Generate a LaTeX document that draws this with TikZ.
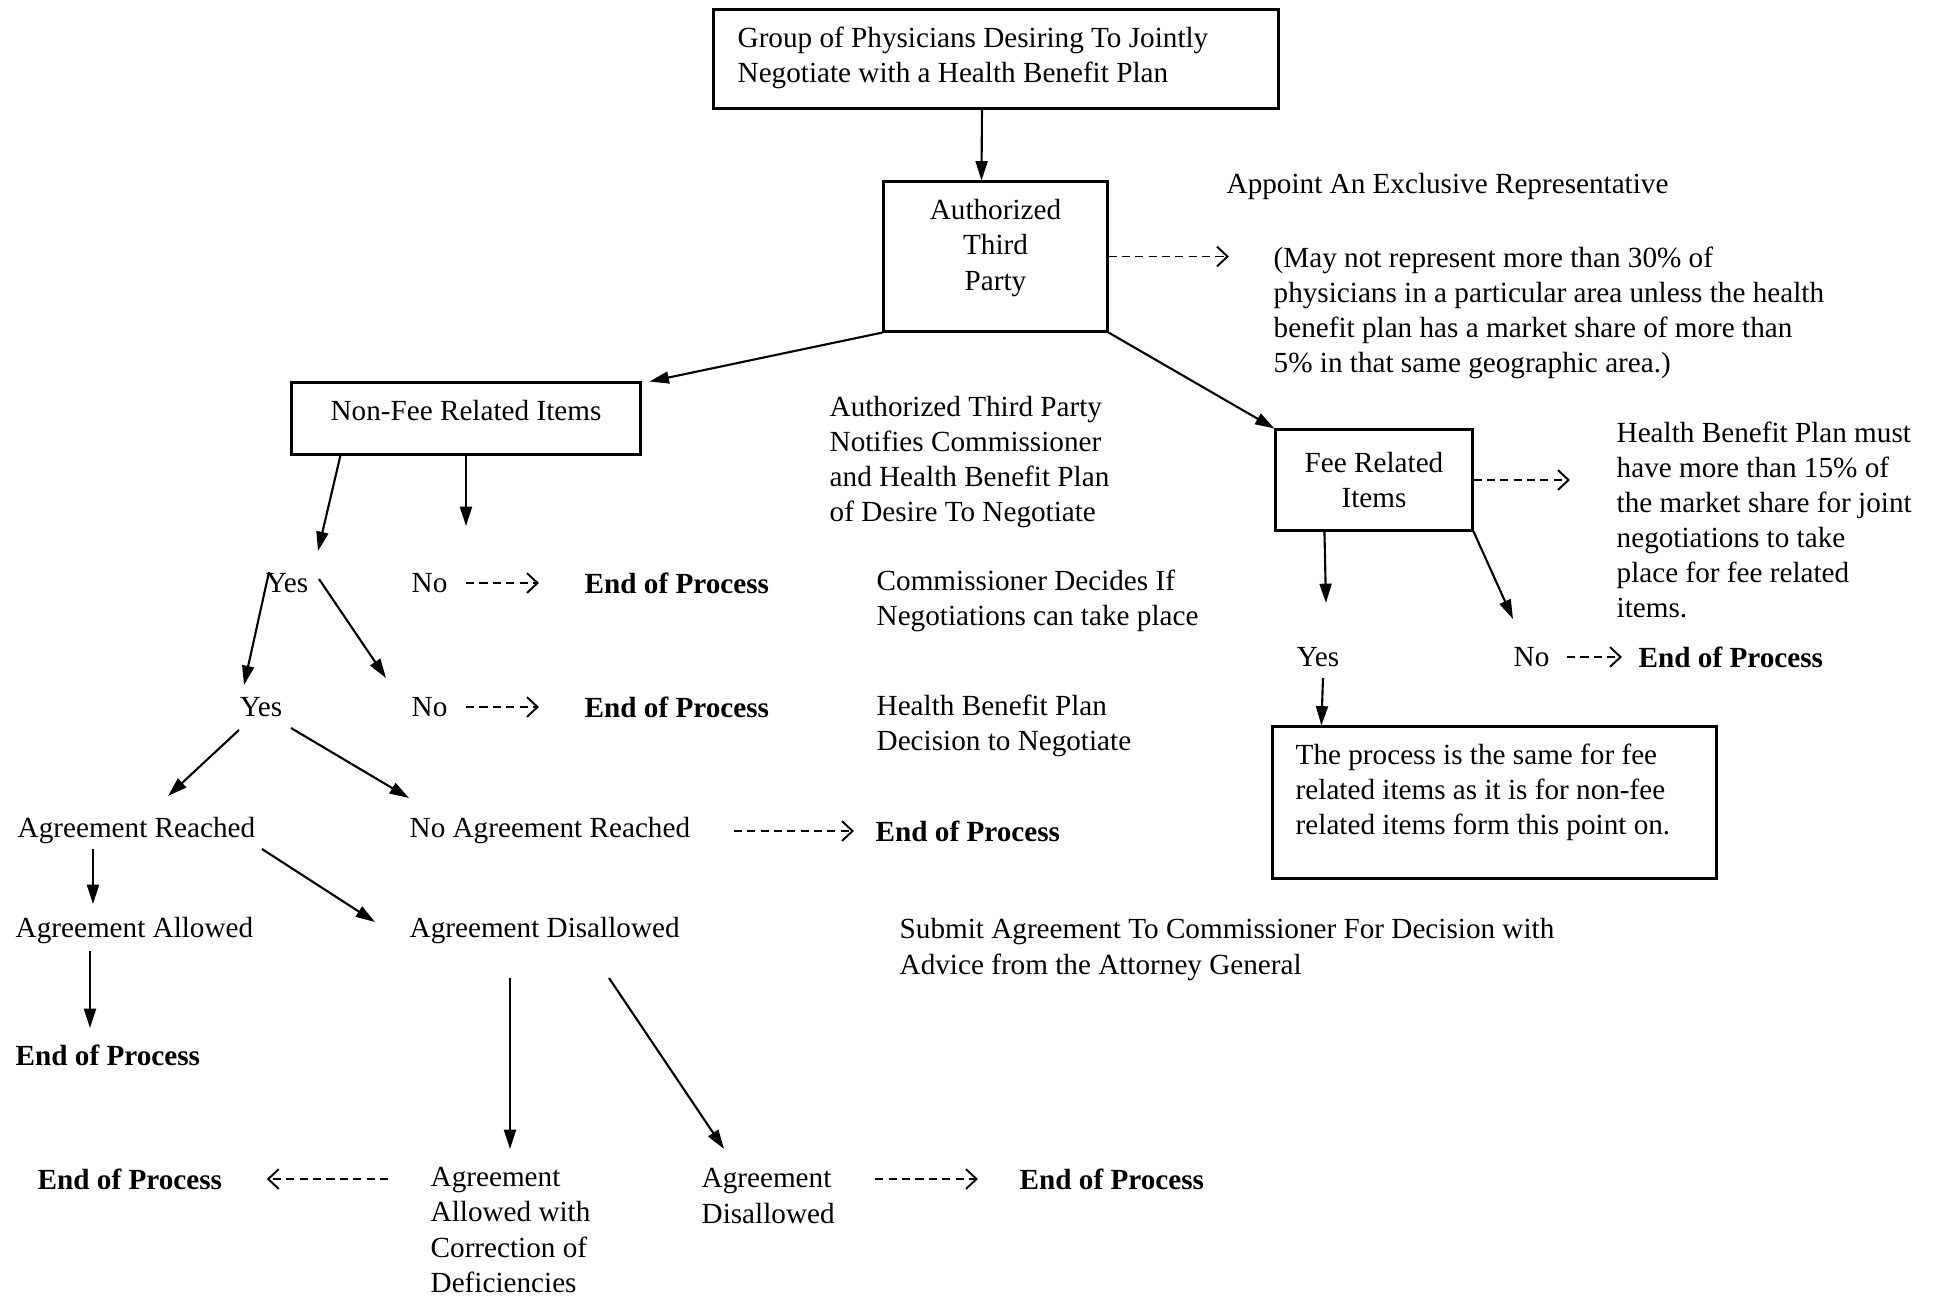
\documentclass[tikz,border=0pt]{standalone}
\usepackage{fontspec}
\setmainfont{Liberation Serif}
\usetikzlibrary{arrows.meta, calc}

\begin{document}
\begin{tikzpicture}[x={(0.01cm,0cm)}, y={(0cm,-0.01cm)},
    font=\fontsize{8.3}{9.96}\selectfont,
    box/.style={draw, line width=0.85pt, inner sep=0pt},
    txt/.style={inner sep=0pt, anchor=west, align=left},
    endproc/.style={txt, font=\fontsize{8.3}{9.96}\selectfont\bfseries},
    arr/.style={-{Triangle[length=5.5pt, width=3.4pt]}, line width=0.6pt},
    dasharr/.style={-{Straight Barb[length=3pt, width=5.6pt]}, line width=0.55pt, dash pattern=on 2.3pt off 1.5pt}]
    % page frame, in pixels of the original (y runs down)
    \useasboundingbox (0,0) rectangle (1941,1296);

    % Boxes
    \node[box, minimum width=5.64cm, minimum height=0.98cm] (group) at (996,59) {};
    \node[txt] (grouptxt) at (737,58) {Group of Physicians Desiring To Jointly\\Negotiate with a Health Benefit Plan};
    \node[box, minimum width=2.23cm, minimum height=1.49cm] (auth) at (995.5,256.5) {};
    \node[inner sep=0pt, align=center] (authtxt) at (995.5,248) {Authorized\\Third\\Party};
    \node[box, minimum width=3.48cm, minimum height=0.71cm] (nonfee) at (466,418.5) {};
    \node[inner sep=0pt] (nonfeetxt) at (466,411) {Non-Fee Related Items};
    \node[box, minimum width=1.96cm, minimum height=1.0cm, align=center] (fee) at (1374,480) {Fee Related\\Items};
    \node[box, minimum width=4.43cm, minimum height=1.51cm] (proc) at (1494.5,802.5) {};
    \node[txt] (proctxt) at (1295,792)
        {The process is the same for fee\\related items as it is for non-fee\\related items form this point on.};

    % Side notes
    \node[txt] (appoint) at (1226,186) {Appoint An Exclusive Representative};
    \node[txt] (limit) at (1273,313) {(May not represent more than 30\% of\\physicians in a particular area unless the health\\benefit plan has a market share of more than\\5\% in that same geographic area.)};
    \node[txt] (notify) at (829,462) {Authorized Third Party\\Notifies Commissioner\\and Health Benefit Plan\\of Desire To Negotiate};
    \node[txt] (decides) at (876,600.5) {Commissioner Decides If\\Negotiations can take place};
    \node[txt] (plandec) at (876,725.5) {Health Benefit Plan\\Decision to Negotiate};
    \node[txt] (submit) at (899,949.5) {Submit Agreement To Commissioner For Decision with\\Advice from the Attorney General};
    \node[txt] (share) at (1616,520) {Health Benefit Plan must\\have more than 15\% of\\the market share for joint\\negotiations to take\\place for fee related\\items.};

    % Non-fee branch
    \node[inner sep=0pt] (yes1) at (287,583) {Yes};
    \node[txt] (no1) at (411,583) {No};
    \node[endproc] (end1) at (584,583) {End of Process};
    \node[inner sep=0pt] (yes2) at (261,707) {Yes};
    \node[txt] (no2) at (411,707) {No};
    \node[endproc] (end2) at (584,707) {End of Process};
    \node[txt] (reached) at (17,831) {Agreement Reached};
    \node[txt] (noreach) at (409,831) {No Agreement Reached};
    \node[endproc] (end3) at (875,831) {End of Process};
    \node[txt] (allowed) at (15,931) {Agreement Allowed};
    \node[txt] (disallowed) at (409,931) {Agreement Disallowed};
    \node[endproc] (end4) at (15,1055) {End of Process};
    \node[endproc] (end5) at (37,1179) {End of Process};
    \node[txt] (corr) at (430,1230) {Agreement\\Allowed with\\Correction of\\Deficiencies};
    \node[txt] (disal2) at (701,1196) {Agreement\\Disallowed};
    \node[endproc] (end6) at (1019,1179) {End of Process};
    \coordinate (nodrop) at (466,526);

    % Fee branch
    \node[inner sep=0pt] (feeyes) at (1318,657) {Yes};
    \node[txt] (feeno) at (1513,657) {No};
    \node[endproc] (end7) at (1638,657) {End of Process};

    % Connectors at the top
    \draw[arr] ([xshift=-0.14cm]group.south) -- ([xshift=-0.14cm]auth.north);
    \draw[arr] (auth.south west) -- ([xshift=0.08cm]nonfee.north east);
    \draw[arr] (auth.south east) -- (fee.north west);
    \draw[dasharr, shorten >=0.44cm] (auth.east) -- (auth.east -| limit.west);

    % Connectors, non-fee items
    \draw[arr] ($(nonfee.south west)+(50,0)$) -- ($(yes1)+(31,-32)$);
    \draw[arr] (nonfee.south) -- (nodrop);
    \draw[arr] ($(yes1)+(-18,-11)$) -- ($(yes2)+(-17,-22)$);
    \draw[arr] ($(yes1)+(32,-4)$) -- ($(no2.west)+(-25,-29)$);
    \draw[dasharr, shorten <=0.18cm, shorten >=0.45cm] (no1.east) -- (no1.east -| end1.west);
    \draw[dasharr, shorten <=0.18cm, shorten >=0.45cm] (no2.east) -- (no2.east -| end2.west);
    \draw[arr] ($(yes2)+(-22,23)$) -- ($(reached.west)+(151,-35)$);
    \draw[arr] ($(yes2)+(30,21)$) -- ($(noreach.west)+(0,-33)$);
    \draw[dasharr, shorten <=0.43cm, shorten >=0.21cm] (noreach.east) -- (noreach.east -| end3.west);
    \draw[arr] ($(reached.west)+(76,18)$) -- ($(allowed.west)+(78,-27)$);
    \draw[arr] ($(reached.west)+(245,18)$) -- ($(disallowed.west)+(-34,-9)$);
    \draw[arr] ($(allowed.west)+(75,20)$) -- ($(end4.west)+(75,-27)$);
    \draw[arr] ($(disallowed.west)+(101,47)$) -- ($(corr.west)+(80,-81)$);
    \draw[arr] ($(disallowed.west)+(200,47)$) -- ($(disal2.west)+(23,-47)$);
    \draw[dasharr, shorten <=0.42cm, shorten >=0.44cm] (end5.east -| corr.west) -- (end5.east);
    \draw[dasharr, shorten <=0.40cm, shorten >=0.41cm] (disal2.east |- end6.west) -- (end6.west);

    % Connectors, fee items
    \draw[dasharr, shorten >=0.46cm] (fee.east) -- (fee.east -| share.west);
    \draw[arr] ($(fee.south west)+(50,0)$) -- ($(feeyes)+(8,-54)$);
    \draw[arr] (fee.south east) -- ($(feeno.west)+(0,-38)$);
    \draw[dasharr, shorten <=0.17cm, shorten >=0.16cm] (feeno.east) -- (end7.west);
    \draw[arr] ($(feeyes)+(5,21)$) -- ($(proc.north west)+(50,0)$);
\end{tikzpicture}
\end{document}
